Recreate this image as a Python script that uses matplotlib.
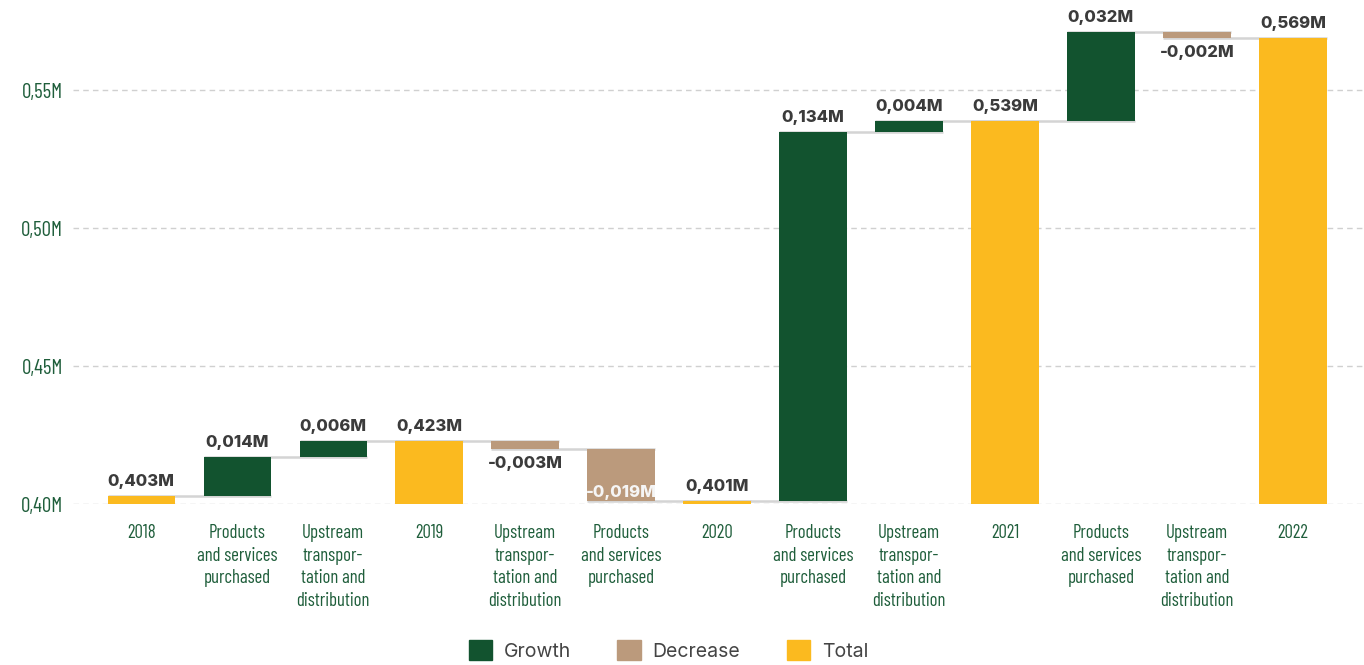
import matplotlib.pyplot as plt
from matplotlib.patches import Patch

categories = ["2018", "Products\nand services\npurchased", "Upstream\ntranspor-\ntation and\ndistribution",
              "2019", "Upstream\ntranspor-\ntation and\ndistribution", "Products\nand services\npurchased",
              "2020", "Products\nand services\npurchased", "Upstream\ntranspor-\ntation and\ndistribution",
              "2021", "Products\nand services\npurchased", "Upstream\ntranspor-\ntation and\ndistribution",
              "2022"]
values = [0.403, 0.014, 0.006, 0.423, -0.003, -0.019, 0.401, 0.134, 0.004, 0.539, 0.032, -0.002, 0.569]
is_total = [True, False, False, True, False, False, True, False, False, True, False, False, True]
yticks = [0.40, 0.45, 0.50, 0.55]

c_growth = "#12532f"
c_decrease = "#bb9a7c"
c_total = "#fbba1f"
c_text = "#3b3b3b"
c_tick = "#1f5e3b"
narrow = ["Barlow Condensed", "DejaVu Sans"]
label_font = ["Inter", "DejaVu Sans"]


def fmt(v):
    return f"{v:.3f}M".replace(".", ",")


fig = plt.figure(figsize=(13.64, 6.65), dpi=100)
ax = fig.add_axes([0.0535, 0.242, 0.9465, 0.728])

width = 0.7
level = 0.0
ends = []
for i, (v, tot) in enumerate(zip(values, is_total)):
    if tot:
        bottom, height, color = 0, v, c_total
        level = v
    else:
        bottom = level if v > 0 else level + v
        height = abs(v)
        color = c_growth if v > 0 else c_decrease
        level = level + v
    ax.bar(i, height, bottom=bottom, width=width, color=color, zorder=3)
    ends.append(level)

    top = bottom + height
    if v > 0:
        ax.text(i, top + 0.0025, fmt(v), ha="center", va="bottom", fontsize=12,
                fontweight=800, family=label_font, color=c_text, zorder=5)
    elif bottom - 0.0025 - 0.005 > 0.40:
        ax.text(i, bottom - 0.0025, fmt(v), ha="center", va="top", fontsize=12,
                fontweight=800, family=label_font, color=c_text, zorder=5)
    else:
        ax.text(i, bottom + 0.0006, fmt(v), ha="center", va="bottom", fontsize=12,
                fontweight=800, family=label_font, color="#f5f5f5", zorder=5)

# connector lines between bars
for i in range(len(values) - 1):
    ax.plot([i - width / 2, i + 1 + width / 2], [ends[i], ends[i]], color="#d4d4d4",
            lw=1.8, zorder=2, solid_capstyle="butt")

ax.set_xlim(-0.71, 12.74)
ax.set_ylim(0.40, 0.5755)
ax.set_yticks(yticks)
ax.set_yticklabels([f"{t:.2f}M".replace(".", ",") for t in yticks], family=narrow,
                   fontsize=15, color=c_tick)
ax.set_xticks(range(len(categories)))
ax.set_xticklabels(categories, family=narrow, fontsize=13.5, color=c_tick, linespacing=1.33)
ax.tick_params(axis="both", length=0)
ax.tick_params(axis="x", pad=14.5)
ax.tick_params(axis="y", pad=7)
ax.grid(axis="y", linestyle=(0, (4, 3)), color="#d0d0d0", lw=1, zorder=0)
ax.set_axisbelow(True)
for s in ax.spines.values():
    s.set_visible(False)

handles = [Patch(color=c_growth, label="Growth"), Patch(color=c_decrease, label="Decrease"),
           Patch(color=c_total, label="Total")]
fig.legend(handles=handles, loc="lower center", bbox_to_anchor=(0.49, -0.02), ncol=3,
           frameon=False, prop={"family": label_font, "size": 14}, handlelength=1.2,
           handleheight=1.2, columnspacing=2.4, handletextpad=0.6, labelcolor="#444444")

plt.savefig("out.png")
plt.close()
